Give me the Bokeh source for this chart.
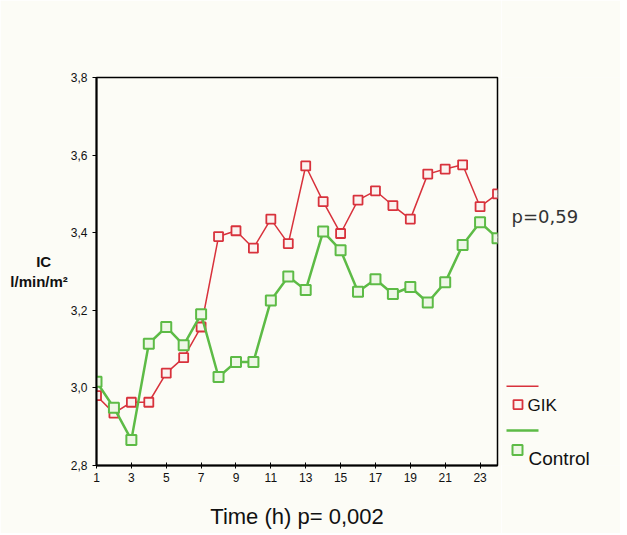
from bokeh.plotting import figure
from bokeh.layouts import row
from bokeh.models import Range1d, FixedTicker
from bokeh.core.properties import value
from bokeh.embed import file_html
from bokeh.resources import INLINE

# ---- data ----
hours = list(range(1, 25))
gik = [2.98, 2.935, 2.963, 2.963, 3.038, 3.078, 3.157, 3.39, 3.405, 3.36, 3.435, 3.372,
       3.572, 3.48, 3.398, 3.484, 3.508, 3.47, 3.435, 3.551, 3.564, 3.575, 3.467, 3.50]
control = [3.016, 2.949, 2.866, 3.114, 3.157, 3.11, 3.19, 3.028, 3.067, 3.067, 3.225, 3.287,
           3.252, 3.403, 3.355, 3.248, 3.28, 3.242, 3.26, 3.22, 3.272, 3.368, 3.427, 3.386]
x_ticks = [1, 3, 5, 7, 9, 11, 13, 15, 17, 19, 21, 23]
y_ticks = [2.8, 3.0, 3.2, 3.4, 3.6, 3.8]
y_tick_labels = ["2,8", "3,0", "3,2", "3,4", "3,6", "3,8"]
series_names = ["GIK", "Control"]
p_between = "p=0,59"
x_title = "Time (h) p= 0,002"
y_title_lines = ["IC", "l/min/m²"]

RED = "#d8323c"
GREEN = "#5dbb46"
BG = "#fcfcf6"
FONT = "Liberation Sans"
H = 533
TOP, BOTTOM = 77, 68

# ---- main plot ----
p = figure(width=501, height=H, output_backend="svg", toolbar_location=None,
           x_range=Range1d(1, 24), y_range=Range1d(2.8, 3.8),
           min_border_left=96, min_border_right=4, min_border_top=TOP, min_border_bottom=BOTTOM,
           background_fill_color=BG, border_fill_color=BG)
p.grid.visible = False
p.outline_line_color = "black"
p.outline_line_width = 1.5
p.outline_line_alpha = 1

p.xaxis.ticker = FixedTicker(ticks=x_ticks)
p.yaxis.ticker = FixedTicker(ticks=y_ticks)
p.yaxis.major_label_overrides = {t: l for t, l in zip(y_ticks, y_tick_labels)}
for ax in (p.xaxis[0], p.yaxis[0]):
    ax.axis_line_color = "black"
    ax.axis_line_width = 2
    ax.major_tick_line_color = "black"
    ax.major_tick_line_width = 1
    ax.minor_tick_line_color = None
    ax.major_label_text_font = FONT
    ax.major_label_text_font_size = "12px"
    ax.major_label_text_color = "#111111"
p.xaxis.major_tick_in = 3
p.xaxis.major_tick_out = 3
p.xaxis.major_label_standoff = 4
p.yaxis.major_tick_in = 0
p.yaxis.major_tick_out = 4
p.yaxis.major_label_standoff = 5

p.xaxis.axis_label = x_title
p.xaxis.axis_label_text_font = FONT
p.xaxis.axis_label_text_font_size = "22px"
p.xaxis.axis_label_text_font_style = "normal"
p.xaxis.axis_label_text_color = "#111111"
p.xaxis.axis_label_standoff = 19

# horizontal two-line y title; trailing no-break spaces centre "IC" over the unit line
p.yaxis.axis_label = y_title_lines[0] + "\u00a0" * 4 + "\n" + y_title_lines[1]
p.yaxis.axis_label_orientation = "horizontal"
p.yaxis.axis_label_text_font = FONT
p.yaxis.axis_label_text_font_size = "15px"
p.yaxis.axis_label_text_font_style = "bold"
p.yaxis.axis_label_text_color = "#111111"
p.yaxis.axis_label_standoff = 0

p.line(hours, gik, line_color=RED, line_width=1.5)
p.scatter(hours, gik, marker="square", size=9, line_color=RED, line_width=1.8,
          fill_color="#fbf3f0")
p.line(hours, control, line_color=GREEN, line_width=2.5)
p.scatter(hours, control, marker="square", size=10, line_color=GREEN, line_width=2,
          fill_color="#eef7e6")

# ---- side panel: p-value and SPSS-style legend ----
s = figure(width=119, height=H, output_backend="svg", toolbar_location=None,
           x_range=Range1d(0, 119), y_range=Range1d(2.8, 3.8),
           min_border_left=0, min_border_right=0, min_border_top=TOP, min_border_bottom=BOTTOM,
           background_fill_color=BG, border_fill_color=BG)
s.axis.visible = False
s.grid.visible = False
s.outline_line_color = None

s.text(x=[10], y=[3.442], text=[p_between], text_font=value("DejaVu Sans"),
       text_font_size="18px", text_baseline="middle", text_align="left", text_color="#333333")

s.line(x=[5, 37], y=[3.0044, 3.0044], line_color=RED, line_width=1.5)
s.scatter(x=[16.5], y=[2.957], marker="square", size=9, line_color=RED, line_width=1.8,
          fill_color="#fbf3f0")
s.text(x=[26], y=[2.9546], text=[series_names[0]], text_font=value(FONT),
       text_font_size="17px", text_baseline="middle", text_align="left", text_color="#111111")

s.line(x=[5, 37], y=[2.890, 2.890], line_color=GREEN, line_width=2.5)
s.scatter(x=[16], y=[2.84], marker="square", size=10, line_color=GREEN, line_width=2,
          fill_color="#eef7e6")
s.text(x=[27], y=[2.818], text=[series_names[1]], text_font=value(FONT),
       text_font_size="19px", text_baseline="middle", text_align="left", text_color="#111111")

layout = row(p, s)
open("out.html", "w").write(file_html(layout, INLINE))
